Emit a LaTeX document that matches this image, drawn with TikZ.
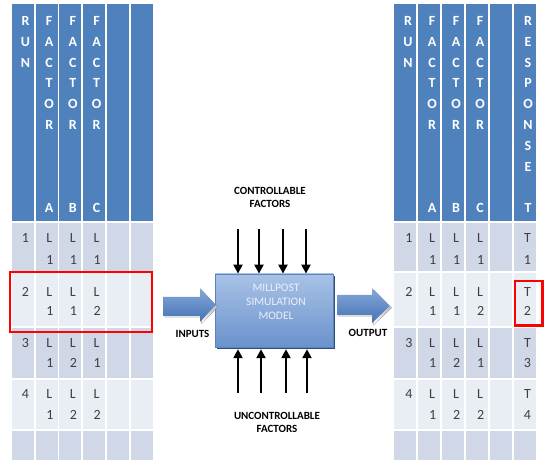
\documentclass[tikz,border=0pt]{standalone}
\usepackage{fontspec}
\setmainfont{Carlito}
\usetikzlibrary{arrows.meta}
\definecolor{hdr}{HTML}{4F81BD}
\definecolor{rowA}{HTML}{D0D8E8}
\definecolor{rowB}{HTML}{E9EDF4}
\definecolor{celltext}{HTML}{3F3F3F}
\definecolor{boxtop}{HTML}{A9C2E6}
\definecolor{boxbot}{HTML}{6A92CD}
\definecolor{boxline}{HTML}{5B84BF}
\definecolor{shade}{HTML}{2F4E7C}
\definecolor{arrtop}{HTML}{86A8DA}
\definecolor{arrbot}{HTML}{4573B4}
\begin{document}
\begin{tikzpicture}[x=1pt,y=-1pt,
  hletter/.style={text=white,font=\fontsize{14}{16}\selectfont\bfseries,inner sep=0pt},
  ctext/.style={text=celltext,font=\fontsize{14}{16}\selectfont,inner sep=0pt},
  lbl/.style={font=\fontsize{11}{13}\selectfont\bfseries,align=center,inner sep=0pt},
  modelbox/.style={draw=boxline,line width=0.8pt,top color=boxtop,bottom color=boxbot,minimum width=118pt,minimum height=73pt,inner sep=0pt},
  shadowbox/.style={fill=shade,minimum width=118pt,minimum height=73pt,inner sep=0pt},
  modeltext/.style={text=white!88!boxline,font=\fontsize{11.5}{14}\selectfont,align=center,inner sep=0pt},
  factarrow/.style={line width=2.8pt,-{Triangle[length=9pt,width=9pt]}},
  redbox/.style={draw=red,line width=2.5pt},
  blockarrow/.style={top color=arrtop,bottom color=arrbot}
  ]
\useasboundingbox (0,0) rectangle (547,465);
\fill[white] (0,0) rectangle (547,465);
% ---------- table cells ----------
\foreach \tx/\ts in {12/23.7, 394/24} {
  \foreach \c in {0,...,5} {
    \pgfmathsetmacro\xa{\tx+\c*\ts}
    \fill[hdr]  (\xa,4)     rectangle ++(22,217);
    \fill[rowA] (\xa,223)   rectangle ++(22,48.5);
    \fill[rowB] (\xa,273.5) rectangle ++(22,53);
    \fill[rowA] (\xa,328.5) rectangle ++(22,50);
    \fill[rowB] (\xa,380.5) rectangle ++(22,49);
    \fill[rowA] (\xa,431.5) rectangle ++(22,28.5);
  }
}
% ---------- header letters ----------
% left table
\foreach \ch/\k in {R/1,U/2,N/3}
  \node[hletter] (Lh0-\k) at (25.5, {21+20.8*(\k-1)}) {\ch};
\foreach \c/\lt in {1/A,2/B,3/C} {
  \foreach \ch/\k in {F/1,A/2,C/3,T/4,O/5,R/6}
    \node[hletter] (Lh\c-\k) at ({25.5+23.7*\c}, {21+20.8*(\k-1)}) {\ch};
  \node[hletter] (Lh\c-10) at ({25.5+23.7*\c}, 208.2) {\lt};
}
% right table
\foreach \ch/\k in {R/1,U/2,N/3}
  \node[hletter] (Rh0-\k) at (408, {21+20.8*(\k-1)}) {\ch};
\foreach \c/\lt in {1/A,2/B,3/C} {
  \foreach \ch/\k in {F/1,A/2,C/3,T/4,O/5,R/6}
    \node[hletter] (Rh\c-\k) at ({408+24*\c}, {21+20.8*(\k-1)}) {\ch};
  \node[hletter] (Rh\c-10) at ({408+24*\c}, 208.2) {\lt};
}
\foreach \ch/\k in {R/1,E/2,S/3,P/4,O/5,N/6,S/7,E/8,T/10}
  \node[hletter] (Rh5-\k) at (528, {21+20.8*(\k-1)}) {\ch};
% ---------- body text ----------
\foreach \r/\ya/\yb/\a/\b/\cc in {1/238/260/1/1/1, 2/292/311/1/1/2, 3/343/363/1/2/1, 4/394/415/1/2/2} {
  % left
  \node[ctext] (Lr\r c0) at (25.5,\ya) {\r};
  \node[ctext] (Lr\r c1a) at (49.2,\ya) {L};
  \node[ctext] (Lr\r c1b) at (49.8,\yb) {\a};
  \node[ctext] (Lr\r c2a) at (72.9,\ya) {L};
  \node[ctext] (Lr\r c2b) at (73.5,\yb) {\b};
  \node[ctext] (Lr\r c3a) at (96.6,\ya) {L};
  \node[ctext] (Lr\r c3b) at (97.2,\yb) {\cc};
  % right
  \node[ctext] (Rr\r c0) at (409,\ya) {\r};
  \node[ctext] (Rr\r c1a) at (432,\ya) {L};
  \node[ctext] (Rr\r c1b) at (432.6,\yb) {\a};
  \node[ctext] (Rr\r c2a) at (456,\ya) {L};
  \node[ctext] (Rr\r c2b) at (456.6,\yb) {\b};
  \node[ctext] (Rr\r c3a) at (480,\ya) {L};
  \node[ctext] (Rr\r c3b) at (480.6,\yb) {\cc};
  \node[ctext] (Rr\r c5a) at (527.5,\ya) {T};
  \node[ctext] (Rr\r c5b) at (527.5,\yb) {\r};
}
% ---------- red highlight boxes ----------
\draw[redbox] (10,272) rectangle (152,332);
\draw[redbox] (515,281) rectangle (542.5,325.5);
% ---------- model box ----------
\node[shadowbox] (modelshadow) at (275.8,312.5) {};
\node[modelbox] (model) at (274,310.5) {};
\node[modeltext] (modeltxt) at (276,302) {MILLPOST\\SIMULATION\\MODEL};
% ---------- block arrows ----------
\fill[shade] (164.5,299) -- (201.5,299) -- (201.5,290) -- (217.5,307) -- (201.5,324) -- (201.5,318) -- (164.5,318) -- cycle;
\path[blockarrow] (163,297) -- (200,297) -- (200,288) -- (215.5,305) -- (200,322) -- (200,316) -- (163,316) -- cycle;
\fill[shade] (338.5,297) -- (373.5,297) -- (373.5,290) -- (391.5,308) -- (373.5,325) -- (373.5,317) -- (338.5,317) -- cycle;
\path[blockarrow] (337,295) -- (372,295) -- (372,288) -- (389.5,306) -- (372,323) -- (372,315) -- (337,315) -- cycle;
% ---------- factor arrows ----------
\foreach \i/\x in {1/238,2/259,3/283,4/306} {
  \coordinate (ct\i) at (\x,229);
  \draw[factarrow] (ct\i) -- (ct\i |- model.north);
}
\foreach \i/\x in {1/238,2/261,3/286,4/307} {
  \coordinate (cb\i) at (\x,393);
  \draw[factarrow] (cb\i) -- (cb\i |- modelshadow.south);
}
% ---------- labels ----------
\node[lbl] (ctrl) at (270,197.5) {CONTROLLABLE\\FACTORS};
\node[lbl] (unctrl) at (277,422) {UNCONTROLLABLE\\FACTORS};
\node[lbl] (inlbl) at (192.5,334) {INPUTS};
\node[lbl] (outlbl) at (368,333) {OUTPUT};
\end{tikzpicture}
\end{document}
